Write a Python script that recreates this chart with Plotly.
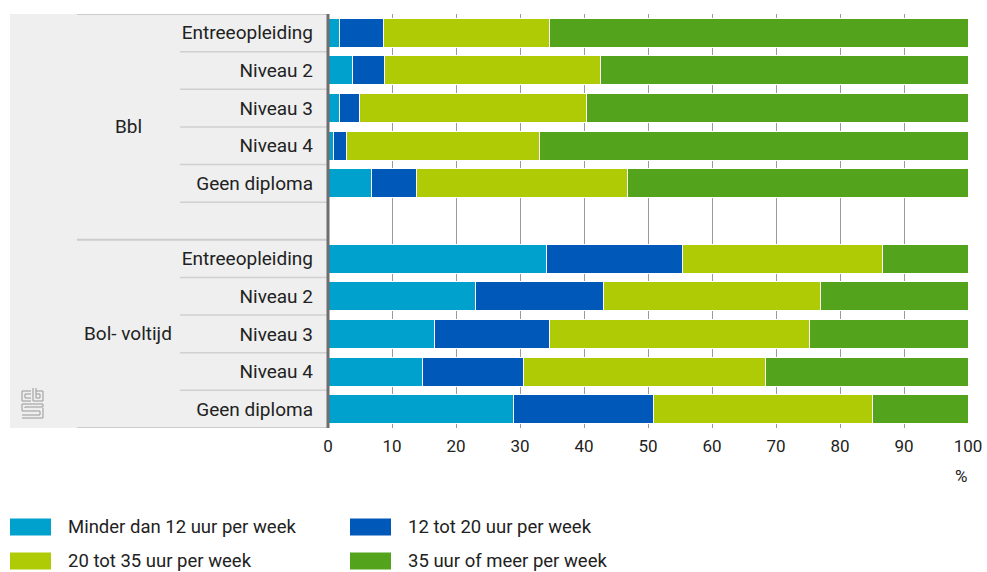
import plotly.graph_objects as go

# ---------------- data ----------------
groups = ["Bbl", "Bol- voltijd"]
levels = ["Entreeopleiding", "Niveau 2", "Niveau 3", "Niveau 4", "Geen diploma"]
series = ["Minder dan 12 uur per week", "12 tot 20 uur per week",
          "20 tot 35 uur per week", "35 uur of meer per week"]
colors = ["#00a1cd", "#0058b8", "#afcb05", "#53a31d"]

bbl_lt12 = [1.8, 3.9, 1.8, 0.8, 6.8]
bbl_12_20 = [6.9, 4.9, 3.1, 2.1, 7.1]
bbl_20_35 = [25.9, 33.8, 35.5, 30.1, 32.9]
bbl_35p = [65.4, 57.4, 59.6, 67.0, 53.2]

bol_lt12 = [34.2, 23.0, 16.7, 14.7, 29.0]
bol_12_20 = [21.2, 20.0, 17.9, 15.9, 21.9]
bol_20_35 = [31.3, 33.9, 40.6, 37.7, 34.1]
bol_35p = [13.3, 23.1, 24.8, 31.7, 15.0]

x_ticks = [0, 10, 20, 30, 40, 50, 60, 70, 80, 90, 100]

# ---------------- layout helpers ----------------
W, H = 987, 572
ML, MR, MT, MB = 328, 19, 14, 144
PW, PH = W - ML - MR, H - MT - MB


def px_x(px):
    return (px - ML) / PW


def px_y(py):
    return (H - MB - py) / PH


# row positions: Bbl rows 0..4, spacer 5, Bol rows 6..10
ypos = {}
for gi, g in enumerate(groups):
    for li, l in enumerate(levels):
        ypos[(g, l)] = gi * 6 + li

data_by_group = {
    "Bbl": [bbl_lt12, bbl_12_20, bbl_20_35, bbl_35p],
    "Bol- voltijd": [bol_lt12, bol_12_20, bol_20_35, bol_35p],
}

fig = go.Figure()
for si, s in enumerate(series):
    xs, ys = [], []
    for g in groups:
        for li, l in enumerate(levels):
            xs.append(data_by_group[g][si][li])
            ys.append(ypos[(g, l)])
    fig.add_trace(go.Bar(
        x=xs, y=ys, orientation="h", name=s,
        marker=dict(color=colors[si], line=dict(color="white", width=1)),
        showlegend=False, hoverinfo="x+name",
    ))

FONT = "Roboto"
TXT = "#222222"

shapes = []
annotations = []

# grey label panel
shapes.append(dict(type="rect", xref="paper", yref="y",
                   x0=px_x(10), x1=0, y0=-0.5, y1=10.5,
                   fillcolor="#efefef", line=dict(width=0), layer="below"))

# separator lines in the label panel
for b in [-0.5, 5.5, 10.5]:
    shapes.append(dict(type="line", xref="paper", yref="y",
                       x0=px_x(77), x1=0, y0=b, y1=b,
                       line=dict(color="#cccccc", width=2)))
for b in [0.5, 1.5, 2.5, 3.5, 4.5, 6.5, 7.5, 8.5, 9.5]:
    shapes.append(dict(type="line", xref="paper", yref="y",
                       x0=px_x(180), x1=0, y0=b, y1=b,
                       line=dict(color="#d0d0d0", width=1.5)))

# axis line
shapes.append(dict(type="line", xref="paper", yref="y",
                   x0=0, x1=0, y0=-0.5, y1=10.5,
                   line=dict(color="#6e6e6e", width=3)))

# group labels
for gi, g in enumerate(groups):
    annotations.append(dict(text=g, xref="paper", yref="y",
                            x=px_x(128), y=2.5 if gi == 0 else 8,
                            showarrow=False, xanchor="center", yanchor="middle",
                            font=dict(family=FONT, size=19, color=TXT)))

# CBS logo (simple line drawing)
logo = [
    # c
    (31, 391, 22, 391), (22, 391, 22, 401), (22, 401, 31, 401),
    (31, 394, 25, 394), (25, 394, 25, 398), (25, 398, 31, 398),
    # b
    (33, 388, 33, 401), (33, 401, 43, 401), (43, 401, 43, 391),
    (43, 391, 36, 391), (36, 388, 36, 398), (36, 398, 40, 398),
    (40, 398, 40, 394), (40, 394, 36, 394),
    # S
    (43, 404, 22, 404), (22, 404, 22, 411), (22, 411, 40, 411),
    (40, 411, 40, 415), (40, 415, 22, 415),
    (43, 404, 43, 407), (43, 407, 25, 407), (25, 407, 25, 408),
    (43, 408, 43, 418), (43, 418, 22, 418),
]
for (a, b, c, d) in logo:
    shapes.append(dict(type="line", xref="paper", yref="paper",
                       x0=px_x(a), y0=px_y(b), x1=px_x(c), y1=px_y(d),
                       line=dict(color="#a5a5a5", width=1.2)))

# "%" unit label
annotations.append(dict(text="%", xref="paper", yref="paper",
                        x=px_x(969), y=px_y(476), showarrow=False,
                        xanchor="right", yanchor="middle",
                        font=dict(family=FONT, size=17, color=TXT)))

# legend (manual, 2 columns)
leg_pos = [(10, 527), (350, 527), (10, 561), (350, 561)]
for si, s in enumerate(series):
    x0, yc = leg_pos[si]
    shapes.append(dict(type="rect", xref="paper", yref="paper",
                       x0=px_x(x0), x1=px_x(x0 + 41),
                       y0=px_y(yc - 8.5), y1=px_y(yc + 8.5),
                       fillcolor=colors[si], line=dict(width=0)))
    annotations.append(dict(text=s, xref="paper", yref="paper",
                            x=px_x(x0 + 56), y=px_y(yc), showarrow=False,
                            xanchor="left", yanchor="middle",
                            font=dict(family=FONT, size=18.5, color=TXT)))

tickvals = [ypos[(g, l)] for g in groups for l in levels]
ticktext = [l for g in groups for l in levels]

fig.update_layout(
    width=W, height=H, autosize=False,
    margin=dict(l=ML, r=MR, t=MT, b=MB, pad=0, autoexpand=False),
    barmode="stack", bargap=0.23,
    plot_bgcolor="white", paper_bgcolor="white",
    font=dict(family=FONT, color=TXT),
    shapes=shapes, annotations=annotations,
    xaxis=dict(range=[0, 100], tickvals=x_ticks, showgrid=True,
               gridcolor="#9a9a9a", gridwidth=1, zeroline=False,
               showline=False, ticks="", ticklabelstandoff=6, automargin=False,
               tickfont=dict(family=FONT, size=17, color=TXT), fixedrange=True),
    yaxis=dict(range=[10.5, -0.5], tickvals=tickvals, ticktext=ticktext,
               showgrid=False, zeroline=False, showline=False, ticks="",
               ticklabelstandoff=14, automargin=False,
               tickfont=dict(family=FONT, size=19, color=TXT), fixedrange=True),
)

fig.write_html("out.html",
               config={"displayModeBar": False, "responsive": False},
               post_script="document.body.style.margin='0';document.body.style.overflow='hidden';")
